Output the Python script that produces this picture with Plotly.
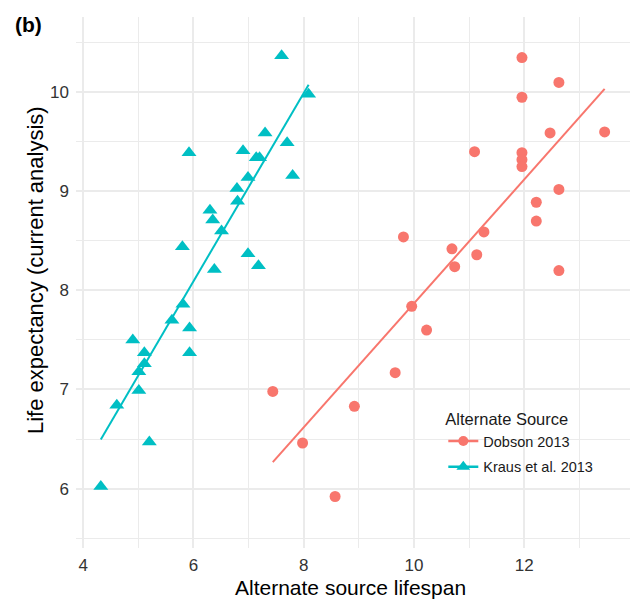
import numpy as np
import plotly.graph_objects as go

# ---- data ----
kraus_x = [7.60, 8.09, 5.92, 7.30, 6.90, 7.14, 7.20, 7.70, 7.80, 6.99, 6.79, 6.80,
           6.30, 6.35, 6.51, 5.80, 6.99, 6.38, 7.18, 5.81, 5.61, 5.93, 4.90, 5.11,
           5.93, 5.11, 5.01, 5.01, 4.61, 5.20, 4.32]
kraus_y = [10.37, 9.98, 9.39, 9.59, 9.41, 9.34, 9.34, 9.49, 9.16, 9.14, 9.03, 8.90,
           8.81, 8.71, 8.60, 8.44, 8.37, 8.21, 8.25, 7.86, 7.70, 7.62, 7.50, 7.37,
           7.37, 7.26, 7.18, 6.99, 6.84, 6.47, 6.02]

dobson_x = [11.96, 12.63, 11.96, 12.47, 13.46, 11.10, 11.96, 11.96, 11.96, 12.63,
            12.22, 12.22, 9.81, 11.27, 10.69, 10.74, 11.14, 12.63, 9.96, 10.23,
            9.66, 8.92, 7.44, 7.98, 8.57]
dobson_y = [10.35, 10.10, 9.95, 9.59, 9.60, 9.40, 9.39, 9.32, 9.25, 9.02,
            8.89, 8.70, 8.54, 8.59, 8.42, 8.24, 8.36, 8.20, 7.84, 7.60,
            7.17, 6.83, 6.98, 6.46, 5.92]

series_names = ["Dobson 2013", "Kraus et al. 2013"]
x_ticks = [4, 6, 8, 10, 12]
y_ticks = [6, 7, 8, 9, 10]

RED = "#F8766D"
TEAL = "#00BFC4"
FONT = "Liberation Sans, Arial, sans-serif"


def fit_line(xs, ys):
    xs = np.asarray(xs)
    ys = np.asarray(ys)
    b, a = np.polyfit(xs, ys, 1)
    xl = np.array([xs.min(), xs.max()])
    return xl, a + b * xl


fig = go.Figure()

groups = [
    (series_names[0], dobson_x, dobson_y, RED, "circle", 11),
    (series_names[1], kraus_x, kraus_y, TEAL, "triangle-up", 13),
]

for name, xs, ys, col, sym, sz in groups:
    fig.add_trace(go.Scatter(
        x=xs, y=ys, mode="markers", name=name, legendgroup=name,
        showlegend=False,
        marker=dict(color=col, symbol=sym, size=sz, line=dict(width=0)),
    ))
    lx, ly = fit_line(xs, ys)
    fig.add_trace(go.Scatter(
        x=lx, y=ly, mode="lines", legendgroup=name, showlegend=False,
        line=dict(color=col, width=2), hoverinfo="skip",
    ))
    # legend entry (line + point, ggplot style)
    fig.add_trace(go.Scatter(
        x=[None], y=[None], mode="lines+markers", name=name, legendgroup=name,
        line=dict(color=col, width=2.5),
        marker=dict(color=col, symbol=sym, size=sz - 1, line=dict(width=0)),
    ))

grid = "#EBEBEB"
fig.update_layout(
    width=636, height=602,
    margin=dict(l=76, r=6, t=17, b=54),
    paper_bgcolor="white", plot_bgcolor="white",
    font=dict(family=FONT, color="#1a1a1a"),
    showlegend=True,
    legend=dict(
        x=0.663, y=0.272, xanchor="left", yanchor="top",
        bgcolor="rgba(0,0,0,0)",
        title=dict(text="Alternate Source", font=dict(size=16.5, color="#1a1a1a")),
        font=dict(size=14.5, color="#1a1a1a"),
        itemwidth=30, tracegroupgap=4,
    ),
    xaxis=dict(
        range=[3.87, 13.92], tickvals=x_ticks, ticktext=[str(v) for v in x_ticks],
        showgrid=True, gridcolor=grid, gridwidth=1.5, zeroline=False,
        showline=False, ticks="", tickfont=dict(size=17, color="#333333"),
        ticklabelstandoff=5,
        minor=dict(tickvals=[5, 7, 9, 11, 13], showgrid=True, gridcolor=grid, gridwidth=1),
        automargin=False,
    ),
    yaxis=dict(
        range=[5.40, 10.76], tickvals=y_ticks, ticktext=[str(v) for v in y_ticks],
        showgrid=True, gridcolor=grid, gridwidth=1.5, zeroline=False,
        showline=False, ticks="", tickfont=dict(size=17, color="#333333"),
        ticklabelstandoff=6,
        minor=dict(tickvals=[5.5, 6.5, 7.5, 8.5, 9.5, 10.5], showgrid=True, gridcolor=grid, gridwidth=1),
        automargin=False,
    ),
)

# axis titles
fig.add_annotation(
    text="Alternate source lifespan", xref="paper", yref="paper",
    x=0.495, y=-0.0753, xanchor="center", yanchor="middle", showarrow=False,
    font=dict(family=FONT, size=21, color="black"),
)
fig.add_annotation(
    text="Life expectancy (current analysis)", xref="paper", yref="paper",
    x=-0.074, y=0.5235, xanchor="center", yanchor="middle", showarrow=False,
    textangle=-90, font=dict(family=FONT, size=22, color="black"),
)

# panel tag
fig.add_annotation(
    text="<b>(b)</b>", xref="paper", yref="paper", x=-0.114, y=0.985,
    xanchor="left", yanchor="middle", showarrow=False,
    font=dict(family=FONT, size=21, color="black"),
)

fig.write_html("out.html")
